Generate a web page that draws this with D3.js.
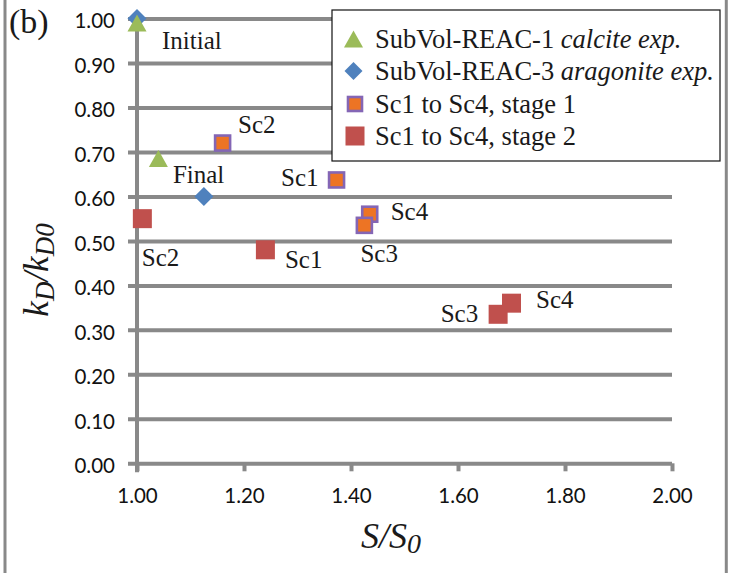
<!DOCTYPE html>
<html>
<head>
<meta charset="utf-8">
<script src="https://cdn.jsdelivr.net/npm/d3@7/dist/d3.min.js"></script>
<style>
  html, body { margin: 0; padding: 0; background: #fff; }
  svg { display: block; }
</style>
</head>
<body>
<svg id="chart" width="733" height="573"></svg>
<script>
// S/S0 and kD/kD0 values for each series
const calciteX = [1.00, 1.04];
const calciteY = [0.99, 0.685];
const calciteNames = ["Initial", "Final"];

const aragoniteX = [1.00, 1.125];
const aragoniteY = [1.00, 0.60];

const scenarios = ["Sc1", "Sc2", "Sc3", "Sc4"];
const stage1X = [1.373, 1.16, 1.425, 1.435];
const stage1Y = [0.637, 0.72, 0.535, 0.56];
const stage2X = [1.24, 1.01, 1.675, 1.70];
const stage2Y = [0.48, 0.55, 0.335, 0.36];

const xTicks = [1.0, 1.2, 1.4, 1.6, 1.8, 2.0];
const yTicks = [0.0, 0.1, 0.2, 0.3, 0.4, 0.5, 0.6, 0.7, 0.8, 0.9, 1.0];

const legendLabels = [
  ["SubVol-REAC-1 ", "calcite exp."],
  ["SubVol-REAC-3 ", "aragonite exp."],
  ["Sc1 to Sc4, stage 1", ""],
  ["Sc1 to Sc4, stage 2", ""]
];

// ---- styling ----
const GRID = "#898989";
const GREEN = "#9BBB59";
const BLUE = "#4F81BD";
const ORANGE = "#ED7424";
const PURPLE = "#8466B5";
const RED = "#C0504D";
const SERIF = "'Liberation Serif', 'Times New Roman', serif";
const SANS = "Lato, 'Open Sans', sans-serif";

// label placement relative to each point: [dx, dy, anchor]
const calciteLabelPos = [[25, 26.5, "start"], [14.5, 24.5, "start"]];
const stage1LabelPos = [[-18, 6.5, "end"], [15.5, -10, "start"], [-4, 36.5, "start"], [21, 6, "start"]];
const stage2LabelPos = [[19.5, 18.5, "start"], [-0.5, 47, "start"], [-20, 7.5, "end"], [24.5, 5, "start"]];

const svg = d3.select("#chart");

const x = d3.scaleLinear().domain([1, 2]).range([137, 672]);
const y = d3.scaleLinear().domain([0, 1]).range([463.3, 18.5]);

// outer frame (left and right sides)
svg.append("line").attr("x1", 5).attr("x2", 5).attr("y1", 0).attr("y2", 573)
  .attr("stroke", GRID).attr("stroke-width", 3);
svg.append("line").attr("x1", 726.3).attr("x2", 726.3).attr("y1", 0).attr("y2", 573)
  .attr("stroke", GRID).attr("stroke-width", 3);

// horizontal gridlines and y-axis
const yAxis = d3.axisLeft(y).tickValues(yTicks).tickFormat(d3.format(".2f"))
  .tickSize(-(x.range()[1] - x.range()[0])).tickSizeOuter(0).tickPadding(14);
const gy = svg.append("g").attr("transform", `translate(${x(1)},0)`).call(yAxis);
gy.select(".domain").remove();
gy.selectAll(".tick line").attr("stroke", GRID).attr("stroke-width", 4).attr("x1", -9);
gy.selectAll(".tick text")
  .attr("font-family", SANS).attr("font-size", 20.5).attr("fill", "#111")
  .attr("x", -22).attr("dy", "0.46em");

// vertical axis line
svg.append("line").attr("x1", x(1)).attr("x2", x(1)).attr("y1", y(1) - 2).attr("y2", y(0) + 9)
  .attr("stroke", GRID).attr("stroke-width", 4);

// x-axis ticks and labels
const xAxis = d3.axisBottom(x).tickValues(xTicks).tickFormat(d3.format(".2f"))
  .tickSize(8).tickSizeOuter(0).tickPadding(17);
const gx = svg.append("g").attr("transform", `translate(0,${y(0)})`).call(xAxis);
gx.select(".domain").remove();
gx.selectAll(".tick line").attr("stroke", GRID).attr("stroke-width", 4);
gx.selectAll(".tick text")
  .attr("font-family", SANS).attr("font-size", 20.5).attr("fill", "#111");

// marker shapes
function trianglePath(cx, cy, w, h) {
  return `M${cx},${cy - h / 2}L${cx + w / 2},${cy + h / 2}L${cx - w / 2},${cy + h / 2}Z`;
}
function diamondPath(cx, cy, r) {
  return `M${cx},${cy - r}L${cx + r},${cy}L${cx},${cy + r}L${cx - r},${cy}Z`;
}

const marks = svg.append("g");

// aragonite experiment (diamonds)
marks.selectAll(".arag").data(aragoniteX).join("path")
  .attr("d", (d, i) => diamondPath(x(d), y(aragoniteY[i]), 9.5))
  .attr("fill", BLUE);

// calcite experiment (triangles)
marks.selectAll(".calc").data(calciteX).join("path")
  .attr("d", (d, i) => trianglePath(x(d), y(calciteY[i]), 19, 17))
  .attr("fill", GREEN);

// stage 2 squares
marks.selectAll(".s2").data(stage2X).join("rect")
  .attr("x", d => x(d) - 9.5).attr("y", (d, i) => y(stage2Y[i]) - 9.5)
  .attr("width", 19).attr("height", 19).attr("fill", RED);

// stage 1 squares, Sc4 drawn first so Sc3 sits on top of it
marks.selectAll(".s1").data(stage1X.map((d, i) => i).sort((a, b) => b - a)).join("rect")
  .attr("x", i => x(stage1X[i]) - 7.5).attr("y", i => y(stage1Y[i]) - 7.5)
  .attr("width", 15).attr("height", 15)
  .attr("fill", ORANGE).attr("stroke", PURPLE).attr("stroke-width", 2.6);

// point labels
const labels = svg.append("g").attr("font-family", SERIF).attr("font-size", 25).attr("fill", "#1a1a1a");
function addLabels(xs, ys, names, pos) {
  names.forEach((n, i) => {
    labels.append("text")
      .attr("x", x(xs[i]) + pos[i][0]).attr("y", y(ys[i]) + pos[i][1])
      .attr("text-anchor", pos[i][2]).text(n);
  });
}
addLabels(calciteX, calciteY, calciteNames, calciteLabelPos);
addLabels(stage1X, stage1Y, scenarios, stage1LabelPos);
addLabels(stage2X, stage2Y, scenarios, stage2LabelPos);

// panel tag
svg.append("text").attr("x", 9).attr("y", 33).attr("font-family", SERIF)
  .attr("font-size", 34).attr("fill", "#1a1a1a").text("(b)");

// axis titles
const xt = svg.append("text").attr("x", 391).attr("y", 548).attr("text-anchor", "middle")
  .attr("font-family", SERIF).attr("font-style", "italic").attr("font-size", 36).attr("fill", "#1a1a1a");
xt.append("tspan").text("S/S");
xt.append("tspan").attr("font-size", 28).attr("dy", 5).text("0");

const yt = svg.append("text").attr("transform", "translate(48,270) rotate(-90)")
  .attr("text-anchor", "middle").attr("font-family", SERIF).attr("font-style", "italic")
  .attr("font-size", 35).attr("fill", "#1a1a1a");
yt.append("tspan").text("k");
yt.append("tspan").attr("font-size", 27).attr("dy", 6).text("D");
yt.append("tspan").attr("dy", -6).text("/k");
yt.append("tspan").attr("font-size", 27).attr("dy", 6).text("D0");

// legend
const lg = svg.append("g");
lg.append("rect").attr("x", 332).attr("y", 10).attr("width", 388).attr("height", 151)
  .attr("fill", "#fff").attr("stroke", "#111").attr("stroke-width", 1.2);
const rowY = [39, 71, 104, 136];
lg.append("path").attr("d", trianglePath(353.5, rowY[0], 19, 17)).attr("fill", GREEN);
lg.append("path").attr("d", diamondPath(353.5, rowY[1], 9)).attr("fill", BLUE);
lg.append("rect").attr("x", 355 - 7).attr("y", rowY[2] - 7).attr("width", 14).attr("height", 14)
  .attr("fill", ORANGE).attr("stroke", PURPLE).attr("stroke-width", 2.6);
lg.append("rect").attr("x", 355 - 9.5).attr("y", rowY[3] - 9.5).attr("width", 19).attr("height", 19)
  .attr("fill", RED);
legendLabels.forEach((l, i) => {
  const t = lg.append("text").attr("x", 375).attr("y", rowY[i] + 8.5)
    .attr("font-family", SERIF).attr("font-size", 26.5).attr("fill", "#1a1a1a");
  t.append("tspan").text(l[0]);
  if (l[1]) t.append("tspan").attr("font-style", "italic").text(l[1]);
});
</script>
</body>
</html>
